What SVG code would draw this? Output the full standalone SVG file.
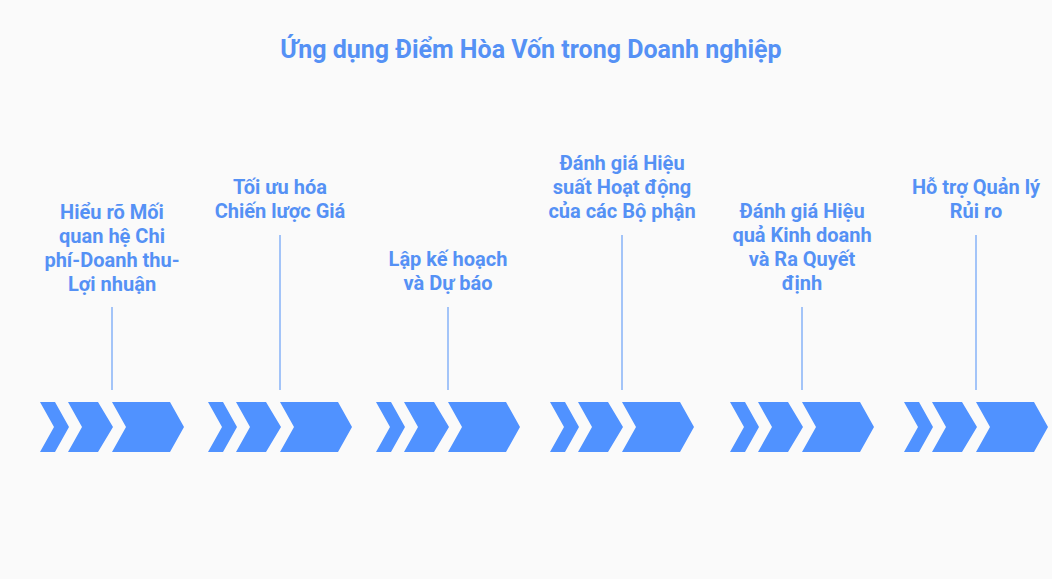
<svg xmlns="http://www.w3.org/2000/svg" width="1052" height="579" viewBox="0 0 1052 579">
<defs>
<style>
.t{font-family:Roboto,"Liberation Sans",sans-serif;font-weight:bold;font-size:20px;fill:#5591F5;text-anchor:middle}
.title{font-family:Roboto,"Liberation Sans",sans-serif;font-weight:bold;font-size:25px;fill:#5591F5;text-anchor:middle}
.ln{stroke:#A3C4F8;stroke-width:2}
.cv{fill:#5092FF}
</style>
<g id="chev">
<polygon class="cv" points="0,0 15,0 29,25 15,50 0,50 14,25"/>
<polygon class="cv" points="28,0 58,0 73,25 58,50 28,50 42,25"/>
<polygon class="cv" points="72,0 130,0 144,25 130,50 72,50 86,25"/>
</g>
</defs>
<rect width="1052" height="579" fill="#FAFAFA"/>
<text class="title" x="531" y="58">Ứng dụng Điểm Hòa Vốn trong Doanh nghiệp</text>
<g id="connectors">
<line class="ln" x1="112" y1="307" x2="112" y2="390"/>
<line class="ln" x1="280" y1="235" x2="280" y2="390"/>
<line class="ln" x1="448" y1="307" x2="448" y2="390"/>
<line class="ln" x1="622" y1="235" x2="622" y2="390"/>
<line class="ln" x1="802" y1="307" x2="802" y2="390"/>
<line class="ln" x1="976" y1="235" x2="976" y2="390"/>
</g>
<g id="node1">
<use href="#chev" x="40" y="402"/>
<text class="t" x="112" y="219">Hiểu rõ Mối</text>
<text class="t" x="112" y="243">quan hệ Chi</text>
<text class="t" x="112" y="267">phí-Doanh thu-</text>
<text class="t" x="112" y="291">Lợi nhuận</text>
</g>
<g id="node2">
<use href="#chev" x="208" y="402"/>
<text class="t" x="280" y="194">Tối ưu hóa</text>
<text class="t" x="280" y="218">Chiến lược Giá</text>
</g>
<g id="node3">
<use href="#chev" x="376" y="402"/>
<text class="t" x="448" y="266">Lập kế hoạch</text>
<text class="t" x="448" y="290">và Dự báo</text>
</g>
<g id="node4">
<use href="#chev" x="550" y="402"/>
<text class="t" x="622" y="170">Đánh giá Hiệu</text>
<text class="t" x="622" y="194">suất Hoạt động</text>
<text class="t" x="622" y="218">của các Bộ phận</text>
</g>
<g id="node5">
<use href="#chev" x="730" y="402"/>
<text class="t" x="802" y="218">Đánh giá Hiệu</text>
<text class="t" x="802" y="242">quả Kinh doanh</text>
<text class="t" x="802" y="266">và Ra Quyết</text>
<text class="t" x="802" y="290">định</text>
</g>
<g id="node6">
<use href="#chev" x="904" y="402"/>
<text class="t" x="976" y="194">Hỗ trợ Quản lý</text>
<text class="t" x="976" y="218">Rủi ro</text>
</g>
</svg>
